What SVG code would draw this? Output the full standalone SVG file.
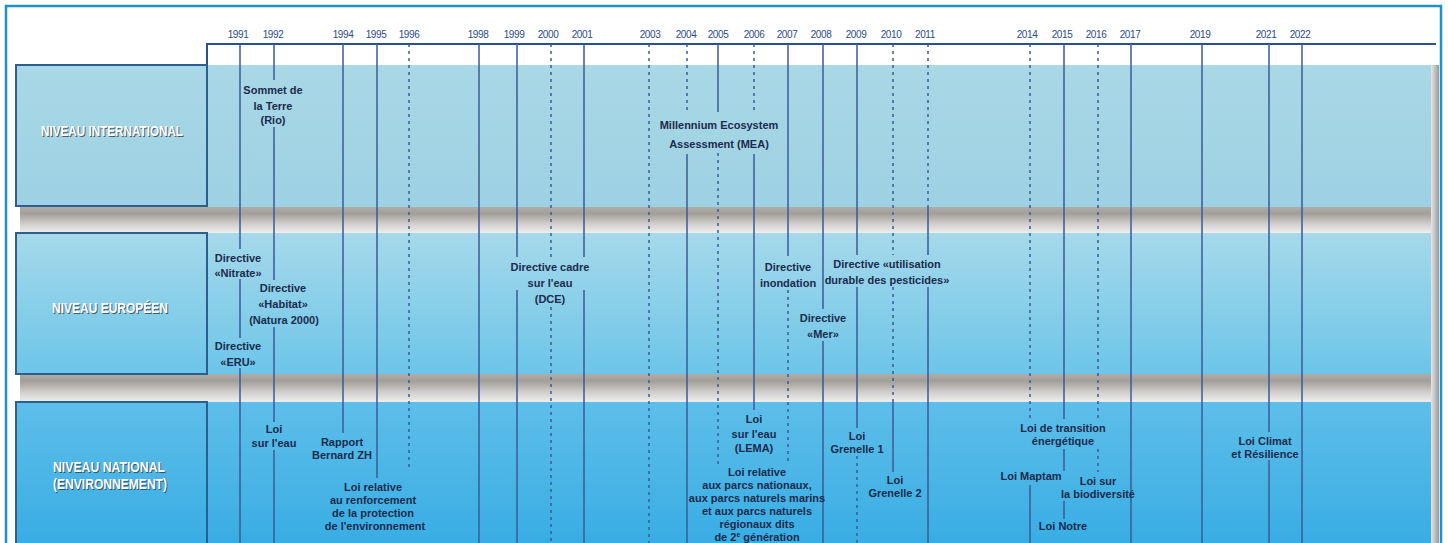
<svg xmlns="http://www.w3.org/2000/svg" width="1448" height="543" viewBox="0 0 1448 543">
<defs>
<linearGradient id="gInt" x1="0" y1="0" x2="0" y2="1"><stop offset="0" stop-color="#a9d8e6"/><stop offset="1" stop-color="#9dd1e3"/></linearGradient>
<linearGradient id="gEu" x1="0" y1="0" x2="0" y2="1"><stop offset="0" stop-color="#a6d9ea"/><stop offset="1" stop-color="#6cc5e8"/></linearGradient>
<linearGradient id="gNat" x1="0" y1="0" x2="0" y2="1"><stop offset="0" stop-color="#5ebee9"/><stop offset="1" stop-color="#36ace3"/></linearGradient>
<linearGradient id="gSh" x1="0" y1="0" x2="0" y2="1"><stop offset="0" stop-color="#b0aca8"/><stop offset="0.25" stop-color="#a29e99"/><stop offset="0.7" stop-color="#d6d4d2"/><stop offset="1" stop-color="#eeeeee"/></linearGradient>
<linearGradient id="gSide" x1="0" y1="0" x2="1" y2="0"><stop offset="0" stop-color="#e6e6e6"/><stop offset="1" stop-color="#9a9a9a"/></linearGradient>
</defs>
<style>
.s{stroke:#3b5b98;stroke-width:1.5;fill:none}
.d{stroke:#3b5b98;stroke-width:1.5;stroke-dasharray:3 4;fill:none}
.yr{font-family:"Liberation Sans",Arial,sans-serif;font-size:10px;fill:#2c4c8c;text-anchor:middle;letter-spacing:-0.4px}
.lb{font-family:"Liberation Sans",Arial,sans-serif;font-size:11px;font-weight:bold;fill:#1b2b4d;text-anchor:middle}
.hd{font-family:"Liberation Sans",Arial,sans-serif;font-size:14px;font-weight:bold;fill:#ffffff;text-anchor:middle}
.hs{font-family:"Liberation Sans",Arial,sans-serif;font-size:14px;font-weight:bold;fill:#333333;fill-opacity:0.75;text-anchor:middle}
.box{stroke:#2a5f90;stroke-width:2}
</style>
<rect x="0" y="0" width="1448" height="543" fill="#ffffff"/>
<rect x="6" y="6" width="1435" height="560" fill="none" stroke="#1e8fd2" stroke-width="2.5"/>

<g id="background">
<rect x="20" y="207" width="1412" height="26" fill="url(#gSh)"/>
<rect x="20" y="374" width="1412" height="28" fill="url(#gSh)"/>
<rect x="207" y="65" width="1224" height="142" fill="url(#gInt)"/>
<rect x="207" y="233" width="1224" height="141" fill="url(#gEu)"/>
<rect x="207" y="402" width="1224" height="150" fill="url(#gNat)"/>
<rect x="1431" y="65" width="8" height="480" fill="url(#gSide)"/>
</g>

<g id="axis">
<path d="M207,65 V44 H1436" fill="none" stroke="#2d4f8c" stroke-width="2"/>
<text class="yr" x="238" y="38">1991</text>
<text class="yr" x="273" y="38">1992</text>
<text class="yr" x="343" y="38">1994</text>
<text class="yr" x="376" y="38">1995</text>
<text class="yr" x="409" y="38">1996</text>
<text class="yr" x="478" y="38">1998</text>
<text class="yr" x="514" y="38">1999</text>
<text class="yr" x="548" y="38">2000</text>
<text class="yr" x="582" y="38">2001</text>
<text class="yr" x="650" y="38">2003</text>
<text class="yr" x="686" y="38">2004</text>
<text class="yr" x="718" y="38">2005</text>
<text class="yr" x="754" y="38">2006</text>
<text class="yr" x="787" y="38">2007</text>
<text class="yr" x="821" y="38">2008</text>
<text class="yr" x="856" y="38">2009</text>
<text class="yr" x="891" y="38">2010</text>
<text class="yr" x="925" y="38">2011</text>
<text class="yr" x="1027" y="38">2014</text>
<text class="yr" x="1062" y="38">2015</text>
<text class="yr" x="1096" y="38">2016</text>
<text class="yr" x="1130" y="38">2017</text>
<text class="yr" x="1200" y="38">2019</text>
<text class="yr" x="1266" y="38">2021</text>
<text class="yr" x="1300" y="38">2022</text>
</g>

<g id="level-international">
<rect class="box" x="16" y="65" width="191" height="141" fill="url(#gInt)"/>
<text class="hs" x="113" y="137" textLength="142" lengthAdjust="spacingAndGlyphs">NIVEAU INTERNATIONAL</text>
<text class="hd" x="112" y="136" textLength="142" lengthAdjust="spacingAndGlyphs">NIVEAU INTERNATIONAL</text>
</g>
<g id="level-europeen">
<rect class="box" x="16" y="233" width="191" height="141" fill="url(#gEu)"/>
<text class="hs" x="111" y="314" textLength="116" lengthAdjust="spacingAndGlyphs">NIVEAU EUROPÉEN</text>
<text class="hd" x="110" y="313" textLength="116" lengthAdjust="spacingAndGlyphs">NIVEAU EUROPÉEN</text>
</g>
<g id="level-national">
<rect class="box" x="16" y="402" width="191" height="150" fill="url(#gNat)"/>
<text class="hs" x="110" y="473" textLength="112" lengthAdjust="spacingAndGlyphs">NIVEAU NATIONAL</text>
<text class="hd" x="109" y="472" textLength="112" lengthAdjust="spacingAndGlyphs">NIVEAU NATIONAL</text>
<text class="hs" x="111" y="490" textLength="114" lengthAdjust="spacingAndGlyphs">(ENVIRONNEMENT)</text>
<text class="hd" x="110" y="489" textLength="114" lengthAdjust="spacingAndGlyphs">(ENVIRONNEMENT)</text>
</g>

<g id="connectors">
<path class="s" d="M240,44V249M240,279V338M240,368V543"/>
<path class="s" d="M274,44V80M274,127V280M274,327V422M274,450V543"/>
<path class="s" d="M343,44V433"/>
<path class="s" d="M377,44V478"/>
<path class="d" d="M409,44V470"/>
<path class="s" d="M479,44V543"/>
<path class="s" d="M517,44V257M517,290V543"/>
<path class="d" d="M551,44V257M551,307V543"/>
<path class="s" d="M584,44V257M584,290V543"/>
<path class="d" d="M649,44V543"/>
<path class="d" d="M687,44V114"/><path class="s" d="M687,154V543"/>
<path class="s" d="M718,44V112"/><path class="d" d="M718,153V465"/>
<path class="d" d="M754,44V114"/><path class="s" d="M754,154V410"/>
<path class="s" d="M788,44V256"/><path class="d" d="M788,290V465"/>
<path class="s" d="M823,44V309M823,341V543"/>
<path class="s" d="M857,44V255M857,287V428"/><path class="d" d="M857,456V543"/>
<path class="d" d="M893,44V255M893,287V402"/><path class="s" d="M893,402V472"/>
<path class="d" d="M928,44V207"/><path class="s" d="M928,207V255M928,287V543"/>
<path class="d" d="M1030,44V419"/><path class="s" d="M1030,485V543"/>
<path class="s" d="M1064,44V419M1064,449V471M1064,501V519"/>
<path class="d" d="M1098,44V419M1098,449V472"/>
<path class="s" d="M1131,44V543"/>
<path class="s" d="M1202,44V543"/>
<path class="s" d="M1269,44V432M1269,460V543"/>
<path class="s" d="M1302,44V543"/>
</g>

<g id="ev-sommet-terre"><text class="lb" x="273" y="94">Sommet de</text><text class="lb" x="273" y="110">la Terre</text><text class="lb" x="273" y="124">(Rio)</text></g>
<g id="ev-mea"><text class="lb" x="719" y="129">Millennium Ecosystem</text><text class="lb" x="719" y="148">Assessment (MEA)</text></g>

<g id="ev-nitrate"><text class="lb" x="238" y="262">Directive</text><text class="lb" x="238" y="277">«Nitrate»</text></g>
<g id="ev-habitat"><text class="lb" x="283" y="292">Directive</text><text class="lb" x="283" y="308">«Habitat»</text><text class="lb" x="284" y="324">(Natura 2000)</text></g>
<g id="ev-eru"><text class="lb" x="238" y="350">Directive</text><text class="lb" x="238" y="366">«ERU»</text></g>
<g id="ev-dce"><text class="lb" x="550" y="271">Directive cadre</text><text class="lb" x="550" y="287">sur l'eau</text><text class="lb" x="550" y="303">(DCE)</text></g>
<g id="ev-inondation"><text class="lb" x="788" y="271">Directive</text><text class="lb" x="788" y="287">inondation</text></g>
<g id="ev-mer"><text class="lb" x="823" y="322">Directive</text><text class="lb" x="823" y="338">«Mer»</text></g>
<g id="ev-pesticides"><text class="lb" x="887" y="268">Directive «utilisation</text><text class="lb" x="887" y="284">durable des pesticides»</text></g>

<g id="ev-loi-eau-1992"><text class="lb" x="274" y="433">Loi</text><text class="lb" x="274" y="447">sur l'eau</text></g>
<g id="ev-bernard"><text class="lb" x="342" y="446">Rapport</text><text class="lb" x="342" y="459">Bernard ZH</text></g>
<g id="ev-barnier"><text class="lb" x="373" y="491">Loi relative</text><text class="lb" x="373" y="504">au renforcement</text><text class="lb" x="373" y="517">de la protection</text><text class="lb" x="375" y="530">de l'environnement</text></g>
<g id="ev-lema"><text class="lb" x="754" y="423">Loi</text><text class="lb" x="754" y="438">sur l'eau</text><text class="lb" x="754" y="452">(LEMA)</text></g>
<g id="ev-parcs"><text class="lb" x="757" y="476">Loi relative</text><text class="lb" x="757" y="489">aux parcs nationaux,</text><text class="lb" x="757" y="502">aux parcs naturels marins</text><text class="lb" x="757" y="515">et aux parcs naturels</text><text class="lb" x="757" y="528">régionaux dits</text><text class="lb" x="757" y="541">de 2<tspan font-size="7" dy="-4">e</tspan><tspan dy="4"> génération</tspan></text></g>
<g id="ev-grenelle1"><text class="lb" x="857" y="440">Loi</text><text class="lb" x="857" y="453">Grenelle 1</text></g>
<g id="ev-grenelle2"><text class="lb" x="895" y="484">Loi</text><text class="lb" x="895" y="497">Grenelle 2</text></g>
<g id="ev-transition"><text class="lb" x="1063" y="432">Loi de transition</text><text class="lb" x="1063" y="445">énergétique</text></g>
<g id="ev-maptam"><text class="lb" x="1031" y="480">Loi Maptam</text></g>
<g id="ev-biodiversite"><text class="lb" x="1098" y="485">Loi sur</text><text class="lb" x="1098" y="498">la biodiversité</text></g>
<g id="ev-notre"><text class="lb" x="1063" y="530">Loi Notre</text></g>
<g id="ev-climat"><text class="lb" x="1265" y="445">Loi Climat</text><text class="lb" x="1265" y="458">et Résilience</text></g>
</svg>
